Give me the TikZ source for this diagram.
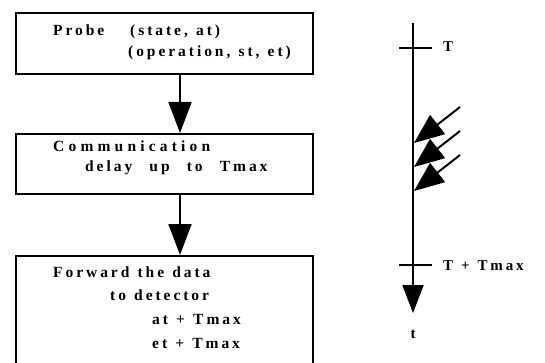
\documentclass[tikz,border=0pt]{standalone}
\usepackage{fontspec}
\setmainfont{Liberation Serif}
\newfontfamily\spaced[LetterSpace=19,WordSpace=1.2]{Liberation Serif}
\newfontfamily\spacedwide[LetterSpace=27]{Liberation Serif}
\usetikzlibrary{arrows.meta}
\begin{document}
\begin{tikzpicture}[x=1pt,y=-1pt,
  boxs/.style={draw,line width=2pt,inner sep=0pt},
  txt/.style={anchor=base west,inner sep=0pt,font=\spaced\bfseries\fontsize{15.5}{18}\selectfont},
  txtw/.style={anchor=base west,inner sep=0pt,font=\spacedwide\bfseries\fontsize{15.5}{18}\selectfont},
  tlab/.style={anchor=base west,inner sep=0pt,font=\spaced\bfseries\fontsize{15}{17}\selectfont},
  flow/.style={line width=2pt,-{Triangle[length=31pt,width=23pt]}},
  tline/.style={line width=2pt},
  msg/.style={line width=2pt,-{Triangle[length=30pt,width=24pt]}}]
\useasboundingbox (0,0) rectangle (545,363);
% boxes
\node[boxs,minimum width=297pt,minimum height=61pt,anchor=north west] (b1) at (15,12) {};
\node[boxs,minimum width=297pt,minimum height=60pt,anchor=north west] (b2) at (15,133) {};
\node[boxs,minimum width=297pt,minimum height=110pt,anchor=north west] (b3) at (15,255) {};
% texts
\node[txt] (t1) at (53,36) {Probe};
\node[txt] (t2) at (130,36) {(state, at)};
\node[txt] (t3) at (128,57) {(operation, st, et)};
\node[txtw] (t4) at (53,152) {Communication};
\node[txt] (t5) at (85,172) {delay\hspace{9pt} up\hspace{9pt} to\hspace{9pt} Tmax};
\node[txt] (t6) at (53,277) {Forward the data};
\node[txt] (t7) at (110,300) {to detector};
\node[txt] (t8) at (152,324) {at + Tmax};
\node[txt] (t9) at (152,348) {et + Tmax};
% flow arrows
\coordinate (a1s) at (180,73);
\coordinate (a1e) at (180,133);
\coordinate (a2s) at (180,193);
\coordinate (a2e) at (180,255);
\draw[flow] (a1s) -- (a1e);
\draw[flow] (a2s) -- (a2e);
% timeline
\coordinate (top) at (413,23);
\coordinate (bot) at (413,313);
\draw[tline,-{Triangle[length=28pt,width=21pt]}] (top) -- (bot);
\coordinate (k1a) at (399,48);
\coordinate (k1b) at (432,48);
\coordinate (k2a) at (399,265);
\coordinate (k2b) at (432,265);
\draw[tline] (k1a) -- (k1b);
\draw[tline] (k2a) -- (k2b);
\node[tlab] (lT) at (443,52) {T};
\node[tlab] (lTm) at (443,270) {T + Tmax};
\node[tlab,anchor=base] (lt) at (413,338) {t};
% incoming messages
\coordinate (m1s) at (460,107);
\coordinate (m1e) at (414,143);
\coordinate (m2s) at (460,131);
\coordinate (m2e) at (414,167);
\coordinate (m3s) at (460,155);
\coordinate (m3e) at (414,191);
\draw[msg] (m1s) -- (m1e);
\draw[msg] (m2s) -- (m2e);
\draw[msg] (m3s) -- (m3e);
\end{tikzpicture}
\end{document}
